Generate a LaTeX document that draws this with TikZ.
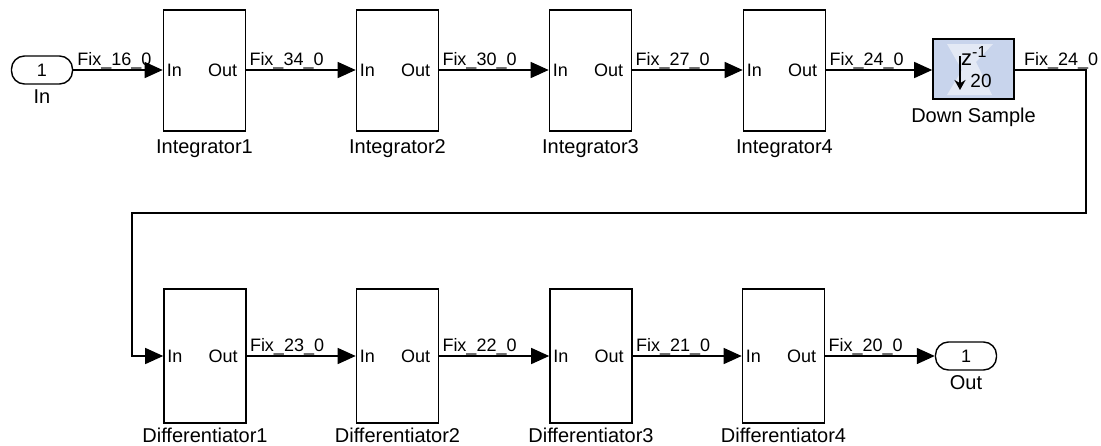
\documentclass[tikz,border=0pt]{standalone}
\usepackage{fontspec}
\setmainfont{Liberation Sans}
\usetikzlibrary{arrows.meta}
\definecolor{dsblue}{RGB}{200,212,236}
\tikzset{
  blk/.style={draw, line width=1.6pt, minimum width=82pt, inner sep=0pt},
  intblk/.style={blk, minimum height=121pt},
  difblk/.style={blk, minimum height=134pt},
  portbox/.style={draw, line width=1.4pt, rounded corners=13pt, minimum width=61pt, minimum height=28pt, inner sep=0pt, font=\fontsize{18}{18}\selectfont},
  blkname/.style={anchor=base, inner sep=0pt, font=\fontsize{20}{20}\selectfont},
  pinlbl/.style={inner sep=0pt, font=\fontsize{18}{18}\selectfont},
  siglbl/.style={anchor=base west, inner sep=0pt, font=\fontsize{18}{18}\selectfont},
  wire/.style={line width=1.4pt, -{Triangle[length=18pt,width=16pt]}},
}
\begin{document}
\begin{tikzpicture}[x=1pt,y=-1pt]
\useasboundingbox (0,0) rectangle (1101,445);
% top row
\node[portbox] (in) at (42,70) {1};
\node[blkname] (inlbl) at ([yshift=-19pt]in.south) {In};
\foreach \i/\x in {1/204.5,2/397.5,3/590.5,4/784.5}{
  \node[intblk] (int\i) at (\x,70.5) {};
  \node[pinlbl, anchor=west] (int\i in) at ([xshift=4pt]int\i.west) {In};
  \node[pinlbl, anchor=east] (int\i out) at ([xshift=-9pt]int\i.east) {Out};
  \node[blkname] (int\i lbl) at ([yshift=-22pt]int\i.south) {Integrator\i};
}
\node[blk, fill=dsblue, minimum width=81pt, minimum height=60pt] (ds) at (973.5,69) {};
\fill[white, opacity=0.5] (947,44) -- (993,44) -- (976,62) -- (992,95) -- (947,95) -- (962,70) -- cycle;
\node[inner sep=0pt, anchor=base west, font=\fontsize{22}{22}\selectfont] (dsz) at (961,65) {z\raisebox{8pt}{\fontsize{16}{16}\selectfont -1}};
\draw[line width=2.2pt, -{Stealth[length=10pt,width=11pt]}] (960,56) -- (960,90);
\node[inner sep=0pt, font=\fontsize{19}{19}\selectfont] (dsn) at (981,81) {20};
\node[blkname] (dslbl) at ([yshift=-23pt]ds.south) {Down Sample};
% bottom row
\foreach \i/\x in {1/205,2/397.5,3/591,4/783.5}{
  \node[difblk] (dif\i) at (\x,356) {};
  \node[pinlbl, anchor=west] (dif\i in) at ([xshift=4pt]dif\i.west) {In};
  \node[pinlbl, anchor=east] (dif\i out) at ([xshift=-9pt]dif\i.east) {Out};
  \node[blkname] (dif\i lbl) at ([yshift=-19pt]dif\i.south) {Differentiator\i};
}
\node[portbox] (out) at (966,356) {1};
\node[blkname] (outlbl) at ([yshift=-19pt]out.south) {Out};
\coordinate (c1) at (1086,70);
\coordinate (c2) at (1086,213);
\coordinate (c3) at (132,213);
\coordinate (c4) at (132,356);
% wires
\draw[wire] (in.east) -- (int1.west |- in.east);
\draw[wire] (int1.east |- in.east) -- (int2.west |- in.east);
\draw[wire] (int2.east |- in.east) -- (int3.west |- in.east);
\draw[wire] (int3.east |- in.east) -- (int4.west |- in.east);
\draw[wire] (int4.east |- in.east) -- (ds.west |- in.east);
\draw[wire] (ds.east |- in.east) -- (c1) -- (c2) -- (c3) -- (c4) -- (dif1.west);
\draw[wire] (dif1.east) -- (dif2.west);
\draw[wire] (dif2.east) -- (dif3.west);
\draw[wire] (dif3.east) -- (dif4.west);
\draw[wire] (dif4.east) -- (out.west);
% signal labels
\node[siglbl] (s1) at ([xshift=4pt,yshift=5pt]in.east) {Fix\_16\_0};
\node[siglbl] (s2) at ([xshift=3pt,yshift=5pt]int1.east |- in.east) {Fix\_34\_0};
\node[siglbl] (s3) at ([xshift=3pt,yshift=5pt]int2.east |- in.east) {Fix\_30\_0};
\node[siglbl] (s4) at ([xshift=3pt,yshift=5pt]int3.east |- in.east) {Fix\_27\_0};
\node[siglbl] (s5) at ([xshift=3pt,yshift=5pt]int4.east |- in.east) {Fix\_24\_0};
\node[siglbl] (s6) at ([xshift=9pt,yshift=5pt]ds.east |- in.east) {Fix\_24\_0};
\node[siglbl] (s7) at ([xshift=3pt,yshift=5pt]dif1.east) {Fix\_23\_0};
\node[siglbl] (s8) at ([xshift=3pt,yshift=5pt]dif2.east) {Fix\_22\_0};
\node[siglbl] (s9) at ([xshift=3pt,yshift=5pt]dif3.east) {Fix\_21\_0};
\node[siglbl] (s10) at ([xshift=3pt,yshift=5pt]dif4.east) {Fix\_20\_0};
\end{tikzpicture}
\end{document}
